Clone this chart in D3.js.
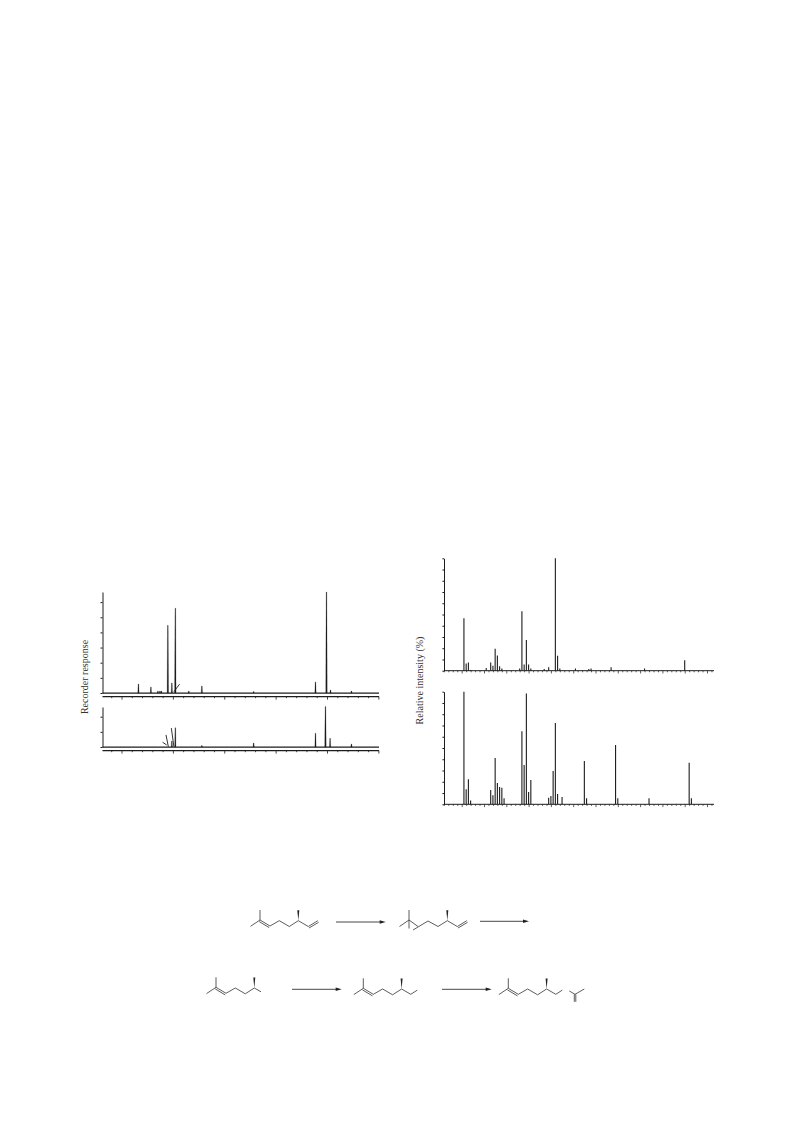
<!DOCTYPE html>
<html><head><meta charset="utf-8">
<script src="https://cdn.jsdelivr.net/npm/d3@7"></script>
<style>html,body{margin:0;padding:0;background:#fff}svg{display:block}text{font-family:"Liberation Serif",serif;fill:#333}</style>
</head><body>
<svg id="c" width="793" height="1123"></svg>
<script>
// Chromatograms: retention time, response
const chromTopTimes  = [6.65,7.86,8.54,8.74,8.88,9.51,9.9,10.24,11.55,12.82,17.86,23.88,24.95,25.34,27.38];
const chromTopValues = [9,6,2,2,2,67,10,84,2,7,1.5,11,100,3,2];
const chromBotTimes  = [9.9,10.24,12.82,17.86,23.88,24.85,25.3,27.38];
const chromBotValues = [6,19,1.5,4,13.6,40,8.6,3];
// Pen arrows: [t0, v0, t1, v1]
const chromTopPointers = [[10.1,1.3,10.65,8.7]];
const chromBotPointers = [[9.85,18.7,10.1,0.3],[9.33,12,9.56,0.3],[9.0,4.7,9.4,2]];
// Mass spectra
const specTopMz  = [41,42,43,44,51,53,54,55,56,57,58,66,67,68,69,70,71,77,79,82,83,84,91,97,98,107,122,140];
const specTopVal = [46.6,6.5,7.4,0.6,2.4,7.4,4.5,19.6,13.6,3.9,2,2,52.8,5.6,27.3,5.6,2,1.5,3,100,13.4,2,2,1.5,2,3,2,9.2];
const specBotMz  = [41,42,43,44,53,54,55,56,57,58,59,67,68,69,70,71,79,80,81,82,83,85,95,96,109,110,124,142,143];
const specBotVal = [100,13.3,22.2,3.3,12.7,8,41.1,18.9,15.4,14.8,5.3,64.8,34.9,98.5,10.9,21.6,5.9,7.4,29.6,72.2,9.2,6.5,38.5,5.3,52.7,5.3,5.3,37,5.3];
const yLabelLeft = "Recorder response";
const yLabelRight = "Relative intensity (%)";

const svg = d3.select("#c");
const INK = "#1c1c1c";

function ticks(a,b,s){return d3.range(a,b+1e-6,s);}

// ---------- chromatograms ----------
const xT = d3.scaleLinear().domain([5,25]).range([121.5,327]);
function chrom(y0, domMax, tVals, vVals, pointers, tickVals){
  const y = d3.scaleLinear().domain([0,domMax]).range([y0, y0-domMax*1.01]);
  const g = svg.append("g");
  const area = d3.line().x(d=>d[0]).y(d=>d[1]);
  tVals.forEach((t,i)=>{
    const v=vVals[i], w = v>30?0.75:0.65;
    g.append("path").attr("fill",INK).attr("stroke",INK).attr("stroke-width",0.2)
      .attr("d",area([[xT(t)-w,y(0)],[xT(t)-0.35,y(v)],[xT(t)+0.35,y(v)],[xT(t)+w,y(0)]])+"Z");
  });
  pointers.forEach(p=>{
    g.append("line").attr("x1",xT(p[0])).attr("y1",y(p[1])).attr("x2",xT(p[2])).attr("y2",y(p[3]))
      .attr("stroke",INK).attr("stroke-width",0.9);
  });
  const ya = d3.axisLeft(y).tickValues(tickVals).tickFormat("").tickSize(2).tickSizeOuter(0);
  const yg = g.append("g").attr("transform","translate(102.5,0)").call(ya);
  yg.selectAll("path,line").attr("stroke",INK).attr("stroke-width",1);
  g.append("line").attr("x1",102.5).attr("x2",379).attr("y1",y0+0.2).attr("y2",y0+0.2).attr("stroke",INK).attr("stroke-width",1.3);
  const ax2 = y0+3.6;
  const xa = d3.axisBottom(xT).tickValues(ticks(4,30,1)).tickFormat("").tickSize(1.6).tickSizeOuter(0);
  const xg = g.append("g").attr("transform",`translate(0,${ax2})`).call(xa);
  xg.selectAll("line").attr("stroke",INK).attr("stroke-width",0.8)
    .attr("y2",d=>d%5===0?3:1.6);
  xg.select("path").remove();
  g.append("line").attr("x1",102.5).attr("x2",379).attr("y1",ax2).attr("y2",ax2).attr("stroke",INK).attr("stroke-width",1.3);
}
chrom(693,100,chromTopTimes,chromTopValues,chromTopPointers,ticks(0,90,15));
chrom(747,39.6,chromBotTimes,chromBotValues,chromBotPointers,ticks(0,30,15));

// ---------- spectra ----------
const xM = d3.scaleLinear().domain([40,140]).range([461.7,684.7]);
function spec(yTop,yBase,mz,vals){
  const y = d3.scaleLinear().domain([0,100]).range([yBase,yTop]);
  const g = svg.append("g");
  g.selectAll("line.p").data(mz).join("line").attr("class","p")
    .attr("x1",d=>xM(d)).attr("x2",d=>xM(d)).attr("y1",y(0))
    .attr("y2",(d,i)=>y(vals[i])).attr("stroke",INK).attr("stroke-width",1.1);
  const ya = d3.axisLeft(y).tickValues(ticks(0,100,10)).tickFormat("").tickSize(1.6).tickSizeOuter(0);
  const yg = g.append("g").attr("transform","translate(444,0)").call(ya);
  yg.selectAll("path,line").attr("stroke",INK).attr("stroke-width",1);
  const xa = d3.axisBottom(xM).tickValues(ticks(32,152,2)).tickFormat("").tickSize(1.6).tickSizeOuter(0);
  const xg = g.append("g").attr("transform",`translate(0,${yBase})`).call(xa);
  xg.selectAll("line").attr("stroke",INK).attr("stroke-width",0.7).attr("y2",d=>d%10===0?2.8:1.6);
  xg.select("path").remove();
  g.append("line").attr("x1",444).attr("x2",714).attr("y1",yBase).attr("y2",yBase).attr("stroke",INK).attr("stroke-width",1);
}
spec(558.3,670.7,specTopMz,specTopVal);
spec(691.7,804.3,specBotMz,specBotVal);

// ---------- axis titles ----------
svg.append("text").attr("transform","translate(88,677) rotate(-90)").attr("text-anchor","middle").attr("font-size",10).text(yLabelLeft);
svg.append("text").attr("transform","translate(423,680.5) rotate(-90)").attr("text-anchor","middle").attr("font-size",10).text(yLabelRight);

// ---------- reaction scheme ----------
const line = d3.line();
function bond(g,a,b,w){g.append("path").attr("d",line([a,b])).attr("stroke","#333").attr("stroke-width",w||0.8).attr("fill","none");}
function dbl(g,a,b,dx,dy){bond(g,a,b);bond(g,[a[0]+dx,a[1]+dy],[b[0]+dx,b[1]+dy]);}
function wedge(g,p){g.append("path").attr("d",line([[p[0],p[1]],[p[0]-1,p[1]-10.5],[p[0]+1,p[1]-10.5]])+"Z").attr("fill","#222");}
function tail(g,kind){
  const p=[38.3,0.7];
  wedge(g,p);
  if(kind==="vinyl"){bond(g,p,[48.3,6.5]);bond(g,[48.3,6.5],[57.8,0.7]);bond(g,[49,8],[58.6,2.3]);}
  if(kind==="short"){bond(g,p,[45,4.5]);}
  if(kind==="ethyl"){bond(g,p,[47.5,6]);bond(g,[47.5,6],[54,1.8]);}
}
function alkene(x,y,kind){
  const g=svg.append("g").attr("transform",`translate(${x},${y})`);
  bond(g,[-9.5,6.3],[0,0]);bond(g,[0,0],[0,-10]);
  dbl(g,[0,0],[10,6],-0.8,1.6);
  bond(g,[10,6],[19.3,0.7]);bond(g,[19.3,0.7],[29.3,6.5]);bond(g,[29.3,6.5],[38.3,0.7]);
  tail(g,kind);
}
alkene(260,920,"vinyl");
alkene(216,987.3,"short");
alkene(363.3,988.3,"ethyl");
alkene(508.3,988.3,"ethyl");
(function(){
  const g=svg.append("g").attr("transform","translate(409,920)");
  bond(g,[-9.5,6.5],[0,0]);bond(g,[0,-10],[0,8.5]);bond(g,[0,0],[9,6.5]);bond(g,[4,10],[19,1]);
  bond(g,[19,1],[29,6.5]);bond(g,[29,6.5],[38.3,0.7]);
  tail(g,"vinyl");
})();
(function(){
  const g=svg.append("g").attr("transform","translate(575,994.3)");
  bond(g,[-5.7,-3.3],[0,0]);bond(g,[0,0],[9.3,-5.3]);dbl(g,[-0.7,0],[-0.7,7.5],1.5,0);
})();
const arrowRows=[[336,385.7,922],[480,529,921.3],[292,341.7,989.3],[442,491.7,989.3]];
arrowRows.forEach(a=>{
  svg.append("line").attr("x1",a[0]).attr("x2",a[1]-4).attr("y1",a[2]).attr("y2",a[2]).attr("stroke","#333").attr("stroke-width",0.9);
  svg.append("path").attr("d",line([[a[1],a[2]],[a[1]-6,a[2]-1.8],[a[1]-6,a[2]+1.8]])+"Z").attr("fill","#222");
});
</script>
</body></html>
